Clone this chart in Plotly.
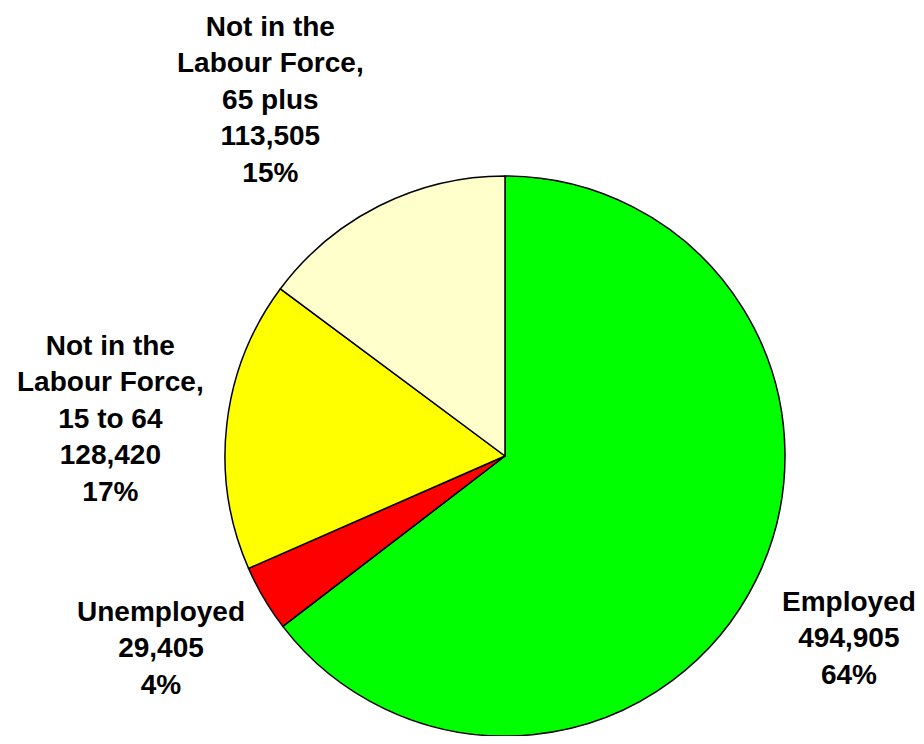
import plotly.graph_objects as go

# Data
categories = ["Employed", "Unemployed", "Not in the<br>Labour Force,<br>15 to 64", "Not in the<br>Labour Force,<br>65 plus"]
values = [494905, 29405, 128420, 113505]
pct_labels = ["64%", "4%", "17%", "15%"]
colors = ["#00FF00", "#FF0000", "#FFFF00", "#FFFFCC"]

# page has an 8px body margin on every side, so the figure is sized to fit the window
OFF = 8
W, H = 924 - 2 * OFF, 744 - 2 * OFF
# label anchor positions in page pixels (center of text block)
label_px = [(849, 638), (161, 648), (110, 418), (270, 99)]

cx, cy, r = 505 - OFF, 460 - OFF, 284

fig = go.Figure()
fig.add_trace(go.Pie(
    labels=categories,
    values=values,
    sort=False,
    direction="clockwise",
    rotation=0,
    marker=dict(colors=colors, line=dict(color="black", width=1.5)),
    textinfo="none",
    showlegend=False,
    domain=dict(x=[(cx - r) / W, (cx + r) / W],
                y=[max(0, 1 - (cy + r) / H), 1 - (cy - r) / H]),
))

annotations = []
for cat, v, p, (px, py) in zip(categories, values, pct_labels, label_px):
    annotations.append(dict(
        text=f"{cat}<br>{v:,}<br>{p}",
        x=(px - OFF) / W, y=1 - (py - OFF) / H,
        xref="paper", yref="paper",
        xanchor="center", yanchor="middle",
        showarrow=False, align="center",
        font=dict(family="Liberation Sans, Arial, sans-serif", size=28, color="black", weight="bold"),
    ))

fig.update_layout(
    width=W, height=H,
    margin=dict(l=0, r=0, t=0, b=0),
    paper_bgcolor="white",
    plot_bgcolor="white",
    annotations=annotations,
)

fig.write_html("out.html")
